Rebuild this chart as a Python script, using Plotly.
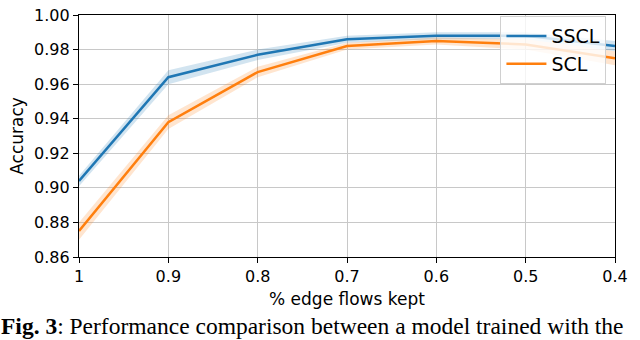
import plotly.graph_objects as go

# fraction of edge flows kept
kept = [1.0, 0.9, 0.8, 0.7, 0.6, 0.5, 0.4]
tick_text = ["1", "0.9", "0.8", "0.7", "0.6", "0.5", "0.4"]
acc_ticks = [0.86, 0.88, 0.90, 0.92, 0.94, 0.96, 0.98, 1.00]
acc_text = ["0.86", "0.88", "0.90", "0.92", "0.94", "0.96", "0.98", "1.00"]

sscl_mean = [0.904, 0.964, 0.977, 0.986, 0.988, 0.988, 0.982]
sscl_std = [0.003, 0.004, 0.003, 0.002, 0.002, 0.002, 0.003]

scl_mean = [0.875, 0.938, 0.967, 0.982, 0.985, 0.983, 0.975]
scl_std = [0.005, 0.004, 0.003, 0.002, 0.002, 0.003, 0.004]

series = [
    ("SSCL", sscl_mean, sscl_std, "#1f77b4", "rgba(31,119,180,0.2)"),
    ("SCL", scl_mean, scl_std, "#ff7f0e", "rgba(255,127,14,0.2)"),
]

fig = go.Figure()

for name, mean, std, color, band in series:
    upper = [m + s for m, s in zip(mean, std)]
    lower = [m - s for m, s in zip(mean, std)]
    fig.add_trace(go.Scatter(
        x=kept + kept[::-1], y=upper + lower[::-1],
        fill="toself", fillcolor=band, line=dict(width=0),
        mode="lines", showlegend=False, hoverinfo="skip",
    ))

for name, mean, std, color, band in series:
    fig.add_trace(go.Scatter(
        x=kept, y=mean, mode="lines", name=name,
        line=dict(color=color, width=2.5),
    ))

axis_common = dict(
    showline=True, linecolor="black", linewidth=1.2, mirror=True,
    ticks="outside", ticklen=5, tickcolor="black",
    showgrid=True, gridcolor="#c8c8c8", gridwidth=1,
    zeroline=False, tickfont=dict(size=16, color="black"),
    ticklabeloverflow="allow",
)

fig.update_layout(
    width=640, height=340,
    margin=dict(l=79, r=25, t=6, b=83),
    paper_bgcolor="white", plot_bgcolor="white",
    font=dict(family="DejaVu Sans", color="black"),
    xaxis=dict(
        range=[1.0, 0.4], tickvals=kept, ticktext=tick_text,
        title=dict(text="% edge flows kept", font=dict(size=17), standoff=7),
        **axis_common,
    ),
    yaxis=dict(
        range=[0.86, 1.0], tickvals=acc_ticks, ticktext=acc_text,
        title=dict(text="Accuracy", font=dict(size=17), standoff=6),
        **axis_common,
    ),
    legend=dict(
        x=0.984, y=0.995, xanchor="right", yanchor="top",
        bgcolor="rgba(255,255,255,0.8)", bordercolor="#d0d0d0", borderwidth=1,
        font=dict(size=19), itemwidth=40,
    ),
    annotations=[dict(
        text="<b>Fig. 3</b>: Performance comparison between a model trained with the",
        xref="paper", yref="paper", x=-0.15, y=-0.223,
        xanchor="left", yanchor="top", showarrow=False,
        font=dict(family="Liberation Serif", size=23.5, color="black"),
    )],
)

# drop the page's default 8px body margin so the figure sits at the window origin
fig.write_html("out.html", config={"displayModeBar": False},
               post_script="document.body.style.margin='0';")
